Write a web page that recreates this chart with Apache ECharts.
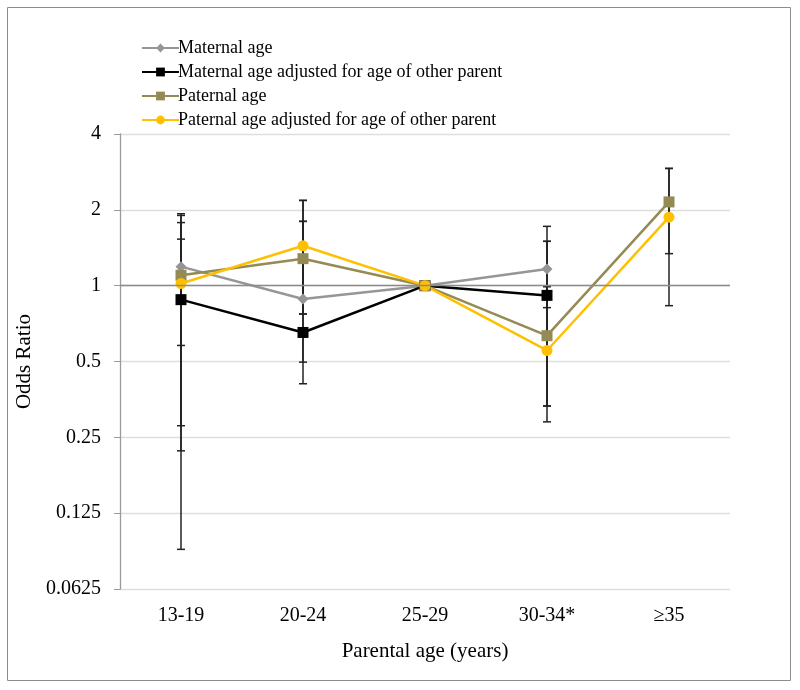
<!DOCTYPE html>
<html>
<head>
<meta charset="utf-8">
<script src="https://cdn.jsdelivr.net/npm/echarts@6/dist/echarts.min.js"></script>
<style>
  html, body { margin: 0; padding: 0; background: #fff; }
  #chart { width: 800px; height: 690px; }
</style>
</head>
<body>
<div id="chart"></div>
<script>
var categories = ['13-19', '20-24', '25-29', '30-34*', '\u226535'];
var tickLabels = ['0.0625', '0.125', '0.25', '0.5', '1', '2', '4'];

// odds ratios
var maternal = [1.19, 0.885, 1, 1.165, null];
var maternalAdj = [0.88, 0.652, 1, 0.915, null];
var paternal = [1.10, 1.28, 1, 0.633, 2.15];
var paternalAdj = [1.02, 1.44, 1, 0.553, 1.87];

// confidence limits
var maternalLow = [0.579, 0.497, null, 0.818, null];
var maternalHigh = [1.93, 1.80, null, 1.72, null];
var maternalAdjLow = [0.221, 0.408, null, 0.333, null];
var maternalAdjHigh = [1.78, 1.80, null, 0.99, null];
var paternalLow = [0.278, 0.772, null, 0.333, 1.34];
var paternalHigh = [1.90, 2.18, null, 1.50, 2.92];
var paternalAdjLow = [0.0898, 0.772, null, 0.288, 0.833];
var paternalAdjHigh = [1.53, 2.18, null, 1.50, 2.92];

var serif = '"Liberation Serif", "Times New Roman", serif';

function errData(lo, hi) {
  var out = [];
  for (var i = 0; i < lo.length; i++) {
    if (lo[i] != null && hi[i] != null) out.push([i, lo[i], hi[i]]);
  }
  return out;
}

var errorBars = []
  .concat(errData(maternalLow, maternalHigh))
  .concat(errData(maternalAdjLow, maternalAdjHigh))
  .concat(errData(paternalLow, paternalHigh))
  .concat(errData(paternalAdjLow, paternalAdjHigh));

function renderErr(params, api) {
  var x = api.value(0);
  var lo = api.coord([x, api.value(1)]);
  var hi = api.coord([x, api.value(2)]);
  var w = 4;
  var style = { stroke: '#222', lineWidth: 1.5 };
  return {
    type: 'group',
    children: [
      { type: 'line', shape: { x1: lo[0], y1: lo[1], x2: hi[0], y2: hi[1] }, style: style },
      { type: 'line', shape: { x1: lo[0] - w, y1: lo[1], x2: lo[0] + w, y2: lo[1] }, style: style },
      { type: 'line', shape: { x1: hi[0] - w, y1: hi[1], x2: hi[0] + w, y2: hi[1] }, style: style }
    ]
  };
}

function lineSeries(name, data, color, symbol, size) {
  return {
    name: name,
    type: 'line',
    data: data,
    symbol: symbol,
    symbolSize: size,
    connectNulls: false,
    z: 3,
    lineStyle: { color: color, width: 2.5 },
    itemStyle: { color: color },
    emphasis: { disabled: true }
  };
}

var chart = echarts.init(document.getElementById('chart'));
chart.setOption({
  animation: false,
  backgroundColor: '#fff',
  graphic: [{
    type: 'rect',
    shape: { x: 7.5, y: 7.5, width: 783, height: 673 },
    style: { fill: null, stroke: '#8c8c8c', lineWidth: 1 },
    silent: true
  }],
  legend: {
    data: ['Maternal age', 'Maternal age adjusted for age of other parent',
      'Paternal age', 'Paternal age adjusted for age of other parent'],
    orient: 'vertical',
    left: 136,
    top: 34,
    itemWidth: 37,
    itemHeight: 11,
    itemGap: 6,
    textStyle: { fontFamily: serif, fontSize: 18, color: '#000', padding: [0, 0, 0, -6] }
  },
  grid: { left: 120, right: 70, top: 134, bottom: 101 },
  xAxis: {
    type: 'category',
    data: categories,
    boundaryGap: true,
    axisLine: { show: false },
    axisTick: { show: false },
    axisLabel: { fontFamily: serif, fontSize: 20, color: '#000', margin: 17 },
    name: 'Parental age (years)',
    nameLocation: 'middle',
    nameGap: 52,
    nameTextStyle: { fontFamily: serif, fontSize: 21, color: '#000' }
  },
  yAxis: {
    type: 'log',
    logBase: 2,
    min: 0.0625,
    max: 4,
    splitNumber: 6,
    axisLine: { show: true, lineStyle: { color: '#9a9a9a', width: 1.3 } },
    axisTick: { show: true, length: 6, lineStyle: { color: '#9a9a9a' } },
    splitLine: { show: true, lineStyle: { color: '#dedede', width: 1.3 } },
    axisLabel: {
      fontFamily: serif, fontSize: 20, color: '#000', margin: 19,
      formatter: function (v) {
        var e = Math.round(Math.log(v) / Math.LN2);
        return tickLabels[e + 4];
      }
    },
    name: 'Odds Ratio',
    nameLocation: 'middle',
    nameGap: 84,
    nameTextStyle: { fontFamily: serif, fontSize: 21, color: '#000' }
  },
  series: [
    {
      type: 'custom',
      name: 'CI',
      data: errorBars,
      renderItem: renderErr,
      encode: { x: 0, y: [1, 2] },
      z: 2,
      silent: true
    },
    {
      type: 'line',
      name: 'ref',
      data: [],
      silent: true,
      markLine: {
        silent: true,
        symbol: 'none',
        label: { show: false },
        lineStyle: { color: '#8c8c8c', width: 1.3, type: 'solid' },
        data: [{ yAxis: 1 }]
      }
    },
    lineSeries('Maternal age', maternal, '#969696', 'diamond', 11),
    lineSeries('Maternal age adjusted for age of other parent', maternalAdj, '#000000', 'rect', 11),
    lineSeries('Paternal age', paternal, '#948a54', 'rect', 11),
    lineSeries('Paternal age adjusted for age of other parent', paternalAdj, '#ffc000', 'circle', 11)
  ]
});
</script>
</body>
</html>
